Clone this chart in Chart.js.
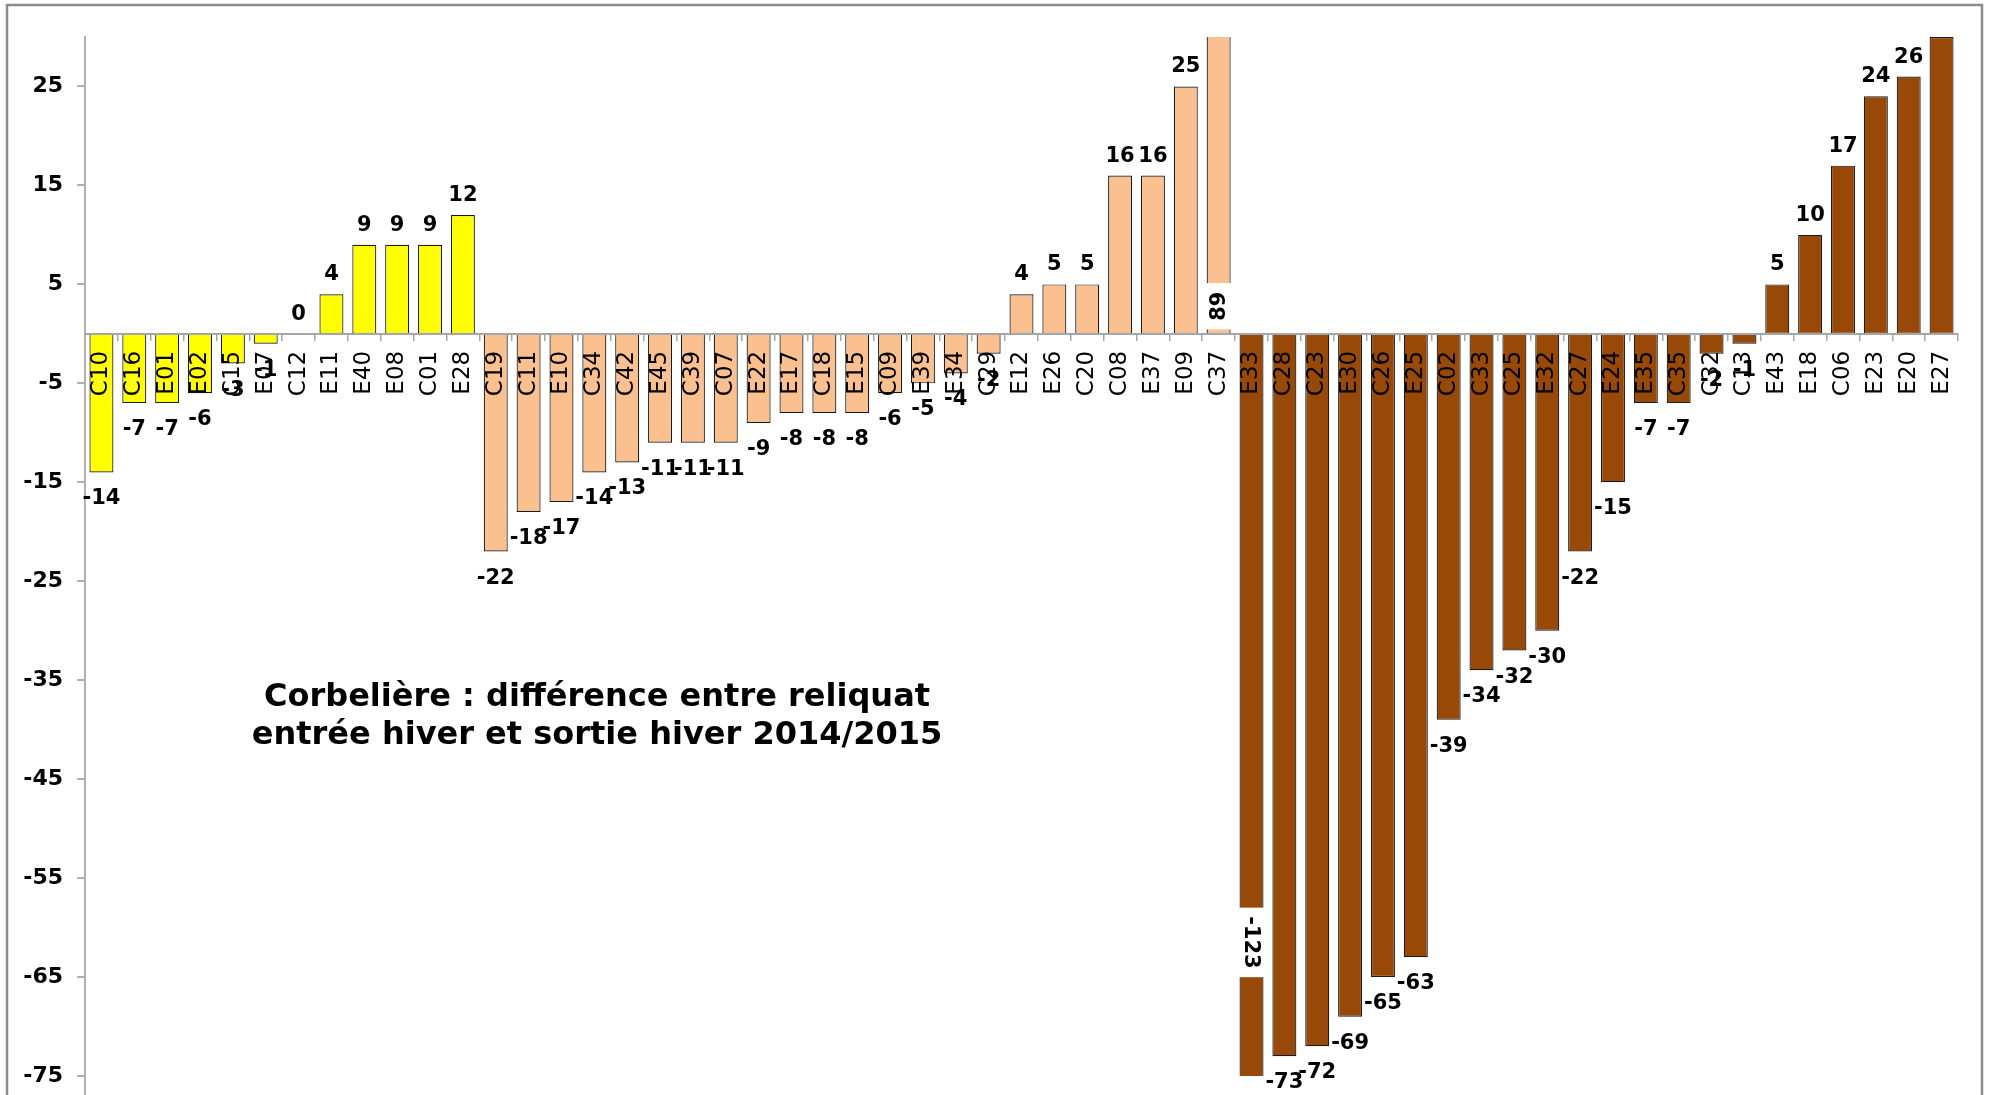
<!DOCTYPE html>
<html>
<head>
<meta charset="utf-8">
<title>Corbelière – reliquats 2014/2015</title>
<script src="https://cdn.jsdelivr.net/npm/chart.js@4/dist/chart.umd.min.js"></script>
<style>
  html, body { margin: 0; padding: 0; background: #fff; overflow: hidden; }
  canvas { display: block; }
</style>
</head>
<body>
<canvas id="chart" width="1989" height="1095"></canvas>
<script>
// Plots grouped by soil type, each group sorted by winter difference
const sitesYellow = ['C10', 'C16', 'E01', 'E02', 'C15', 'E07', 'C12', 'E11', 'E40', 'E08', 'C01', 'E28'];
const diffYellow  = [-14, -7, -7, -6, -3, -1, 0, 4, 9, 9, 9, 12];

const sitesPeach = ['C19', 'C11', 'E10', 'C34', 'C42', 'E45', 'C39', 'C07', 'E22', 'E17', 'C18', 'E15',
                    'C09', 'E39', 'E34', 'C29', 'E12', 'E26', 'C20', 'C08', 'E37', 'E09', 'C37'];
const diffPeach  = [-22, -18, -17, -14, -13, -11, -11, -11, -9, -8, -8, -8,
                    -6, -5, -4, -2, 4, 5, 5, 16, 16, 25, 89];

const sitesBrown = ['E33', 'C28', 'C23', 'E30', 'C26', 'E25', 'C02', 'C33', 'C25', 'E32', 'C27',
                    'E24', 'E35', 'C35', 'C32', 'C13', 'E43', 'E18', 'C06', 'E23', 'E20', 'E27'];
const diffBrown  = [-123, -73, -72, -69, -65, -63, -39, -34, -32, -30, -22,
                    -15, -7, -7, -2, -1, 5, 10, 17, 24, 26, 30];

const yTicks = [-75, -65, -55, -45, -35, -25, -15, -5, 5, 15, 25];
const yMin = -75;
const yMax = 30;

const titleLines = ['Corbelière : différence entre reliquat', 'entrée hiver et sortie hiver 2014/2015'];

// Assemble the single bar series
const groupColors = ['#FFFF00', '#FAC090', '#984807'];
const groups = [[sitesYellow, diffYellow], [sitesPeach, diffPeach], [sitesBrown, diffBrown]];
const labels = [];
const values = [];
const colors = [];
groups.forEach(([sites, diffs], g) => {
  sites.forEach((s, i) => {
    labels.push(s);
    values.push(diffs[i]);
    colors.push(groupColors[g]);
  });
});

const FONT = '"DejaVu Sans", Verdana, sans-serif';

// Grey frame around the whole chart, plus the value axis running on to the bottom edge
const frame = {
  id: 'frame',
  beforeDraw(chart) {
    const ctx = chart.ctx;
    ctx.save();
    ctx.fillStyle = '#fff';
    ctx.fillRect(0, 0, chart.width, chart.height);
    ctx.strokeStyle = '#8c8c8c';
    ctx.lineWidth = 2.5;
    ctx.strokeRect(7, 5, 1975, chart.height + 20);
    ctx.restore();
  },
  afterDraw(chart) {
    const ctx = chart.ctx;
    const y = chart.scales.y;
    ctx.save();
    ctx.strokeStyle = '#b0b0b0';
    ctx.lineWidth = 2;
    ctx.beginPath();
    ctx.moveTo(y.right, chart.chartArea.bottom);
    ctx.lineTo(y.right, chart.height);
    ctx.stroke();
    ctx.restore();
  }
};

// Value labels at the end of each bar; bars that run off the axis get their
// value written sideways inside the bar on a white patch
const valueLabels = {
  id: 'valueLabels',
  afterDatasetsDraw(chart, args, opts) {
    const ctx = chart.ctx;
    const meta = chart.getDatasetMeta(0);
    const data = chart.data.datasets[0].data;
    const area = chart.chartArea;
    const ys = chart.scales.y;
    ctx.save();
    ctx.font = 'bold ' + opts.size + 'px ' + FONT;
    ctx.textAlign = 'center';
    meta.data.forEach((bar, i) => {
      const v = data[i];
      const name = chart.data.labels[i];
      if (opts.hidden.includes(name)) return;
      const text = String(v);
      if (v > ys.max || v < ys.min) {
        const frac = opts.inset[name] !== undefined ? opts.inset[name] : 0.5;
        const base = ys.getPixelForValue(0);
        const end = v > 0 ? area.top : area.bottom;
        const cy = base + (end - base) * frac;
        const tw = ctx.measureText(text).width;
        const h = tw + 17;
        ctx.fillStyle = '#fff';
        ctx.fillRect(bar.x - bar.width / 2 - 1, cy - h / 2, bar.width + 2, h);
        ctx.fillStyle = '#000';
        ctx.save();
        ctx.translate(bar.x, cy);
        // upward bars read bottom-to-top, downward bars top-to-bottom
        ctx.rotate(v > 0 ? -Math.PI / 2 : Math.PI / 2);
        ctx.textBaseline = 'middle';
        ctx.fillText(text, 0, 1);
        ctx.restore();
        return;
      }
      ctx.fillStyle = '#000';
      ctx.textBaseline = 'alphabetic';
      if (v >= 0) {
        ctx.fillText(text, bar.x, bar.y - 14);
      } else {
        ctx.fillText(text, bar.x, bar.y + 32);
      }
    });
    ctx.restore();
  }
};

// Two-line caption inside the plot
const caption = {
  id: 'caption',
  afterDraw(chart, args, opts) {
    const ctx = chart.ctx;
    ctx.save();
    ctx.font = 'bold ' + opts.size + 'px ' + FONT;
    ctx.fillStyle = '#000';
    ctx.textAlign = 'center';
    ctx.textBaseline = 'middle';
    opts.lines.forEach((line, i) => {
      ctx.fillText(line, opts.x, opts.y + i * opts.lineHeight);
    });
    ctx.restore();
  }
};

new Chart(document.getElementById('chart'), {
  type: 'bar',
  data: {
    labels: labels,
    datasets: [{
      data: values,
      backgroundColor: colors,
      borderColor: '#1a1a1a',
      borderWidth: 1.2,
      borderSkipped: false,
      barPercentage: 0.73,
      categoryPercentage: 1
    }]
  },
  options: {
    responsive: false,
    animation: false,
    devicePixelRatio: 1,
    layout: { padding: { top: 37, right: 31, bottom: 19, left: 0 } },
    plugins: {
      legend: { display: false },
      tooltip: { enabled: false },
      valueLabels: {
        size: 21,
        hidden: ['E27'],
        inset: { C37: 0.093, E33: 0.82 }
      },
      caption: {
        lines: titleLines,
        x: 597,
        y: 698,
        lineHeight: 38,
        size: 32
      }
    },
    scales: {
      x: {
        position: { y: 0 },
        offset: true,
        grid: {
          offset: true,
          drawOnChartArea: false,
          drawTicks: true,
          tickLength: 6,
          color: '#a6a6a6',
          lineWidth: 1.5
        },
        border: { display: true, color: '#a6a6a6', width: 2, z: 1 },
        ticks: {
          z: 1,
          autoSkip: false,
          minRotation: 90,
          maxRotation: 90,
          padding: 11,
          color: '#000',
          font: { family: FONT, size: 23 }
        },
        afterFit(s) { s.paddingLeft = 0; s.paddingRight = 0; }
      },
      y: {
        min: yMin,
        max: yMax,
        afterBuildTicks(s) { s.ticks = yTicks.map(v => ({ value: v })); },
        grid: {
          drawOnChartArea: false,
          drawTicks: true,
          tickLength: 8,
          color: '#b0b0b0',
          lineWidth: 2
        },
        border: { display: true, color: '#b0b0b0', width: 2 },
        ticks: {
          padding: 14,
          color: '#000',
          font: { family: FONT, size: 22, weight: 'bold' }
        },
        afterFit(s) { s.width = 85; s.paddingTop = 0; s.paddingBottom = 0; }
      }
    }
  },
  plugins: [frame, valueLabels, caption]
});
</script>
</body>
</html>
